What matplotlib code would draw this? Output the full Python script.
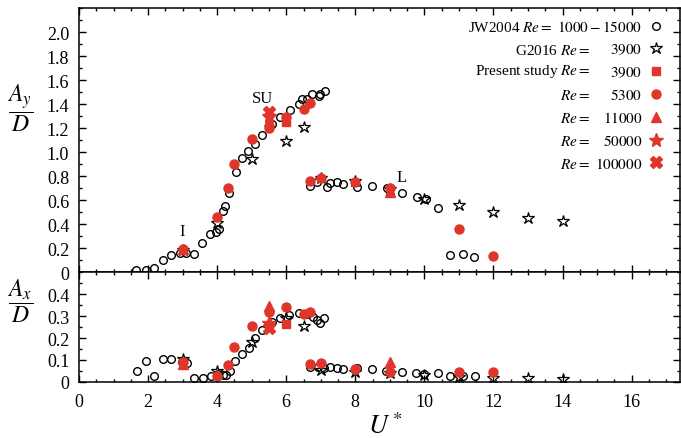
import matplotlib
matplotlib.use("Agg")
import matplotlib.pyplot as plt
from matplotlib.lines import Line2D
from matplotlib.ticker import MultipleLocator, FixedLocator
import numpy as np

plt.rcParams['font.family'] = ['Liberation Serif', 'DejaVu Serif']
plt.rcParams['mathtext.fontset'] = 'stix'

RED = '#e0352b'

# ---------------- data: top panel (A_y / D) ----------------
jw_y_u = [1.65, 1.93, 2.17, 2.42, 2.67, 2.92, 3.09, 3.33, 3.57, 3.79, 3.98, 4.06, 4.16, 4.23,
          4.35, 4.54, 4.72, 4.89, 5.10, 5.31, 5.60, 5.82, 6.11, 6.36, 6.47, 6.59, 6.76, 6.94,
          6.99, 7.11,
          6.68, 6.90, 7.17, 7.26, 7.46, 7.63, 8.05, 8.48, 8.92, 9.35, 9.79, 10.04, 10.39,
          10.73, 11.12, 11.45]
jw_y_a = [0.02, 0.02, 0.03, 0.10, 0.14, 0.16, 0.16, 0.15, 0.24, 0.32, 0.33, 0.36, 0.51, 0.55,
          0.66, 0.83, 0.95, 1.01, 1.07, 1.14, 1.23, 1.29, 1.35, 1.40, 1.44, 1.44, 1.48, 1.47,
          1.48, 1.51,
          0.72, 0.75, 0.71, 0.74, 0.75, 0.73, 0.71, 0.72, 0.70, 0.66, 0.625, 0.61, 0.53,
          0.14, 0.15, 0.125]

g16_u = [3, 4, 5, 6, 6.5, 7, 8, 9, 10, 11, 12, 13, 14]
g16_y = [0.18, 0.41, 0.94, 1.09, 1.21, 0.78, 0.76, 0.69, 0.61, 0.56, 0.50, 0.45, 0.425]

ps3900_u = [6.0]
ps3900_y = [1.25]
ps5300_u = [3.0, 4.0, 4.3, 4.5, 5.0, 5.5, 6.0, 6.5, 6.7, 6.7, 7.0, 8.0, 9.0, 11.0, 12.0]
ps5300_y = [0.19, 0.46, 0.70, 0.90, 1.11, 1.20, 1.29, 1.36, 1.41, 0.76, 0.78, 0.75, 0.70, 0.36, 0.13]
ps11000_u = [3.0, 5.5, 9.0]
ps11000_y = [0.19, 1.26, 0.67]
ps50000_u = [5.5]
ps50000_y = [1.30]
ps100000_u = [5.5]
ps100000_y = [1.33]

# ---------------- data: bottom panel (A_x / D) ----------------
jw_x_u = [1.67, 1.94, 2.17, 2.42, 2.67, 2.97, 3.12, 3.33, 3.58, 3.81, 4.03, 4.16, 4.27, 4.37,
          4.52, 4.72, 4.91, 5.10, 5.31, 5.60, 5.82, 6.09, 6.36, 6.59, 6.78, 6.88, 6.99, 7.09,
          6.70, 6.93, 7.10, 7.26, 7.46, 7.63, 8.05, 8.48, 8.90, 9.35, 9.77, 10.0, 10.39,
          10.73, 11.12, 11.47]
jw_x_a = [0.049, 0.097, 0.026, 0.103, 0.106, 0.091, 0.085, 0.017, 0.017, 0.026, 0.037, 0.032,
          0.034, 0.049, 0.094, 0.127, 0.154, 0.199, 0.238, 0.274, 0.289, 0.304, 0.316, 0.307,
          0.295, 0.280, 0.268, 0.292,
          0.070, 0.067, 0.064, 0.070, 0.064, 0.061, 0.064, 0.061, 0.049, 0.046, 0.043, 0.035,
          0.043, 0.026, 0.026, 0.026]

g16_x = [0.106, 0.049, 0.181, 0.29, 0.256, 0.053, 0.045, 0.040, 0.033, 0.024, 0.017, 0.020, 0.015]

ps3900_x = [0.266]
ps5300_x = [0.091, 0.028, 0.076, 0.157, 0.256, 0.32, 0.343, 0.307, 0.319, 0.080, 0.088, 0.058,
            0.044, 0.044, 0.044]
ps11000_x = [0.08, 0.345, 0.091]
ps50000_x = [0.27]
ps100000_x = [0.244]

legend_numbers = [r'$1000-15000$', r'$3900$', r'$3900$', r'$5300$', r'$11000$', r'$50000$', r'$100000$']
legend_prefix = [r'JW2004 $Re =$', r'G2016 $Re =$', r'Present study $Re =$', r'$Re =$',
                 r'$Re =$', r'$Re =$', r'$Re =$']

# ---------------- figure ----------------
W, H = 6.81, 4.39
fig = plt.figure(figsize=(W, H), dpi=100)
ax1 = fig.add_axes([0.116, 0.378, 0.8825, 0.6015])
ax2 = fig.add_axes([0.116, 0.1276, 0.8825, 0.2504])

styles = {
    'jw': dict(marker='o', ms=5.5, mfc='none', mec='black', mew=1.0, ls='none'),
    'g16': dict(marker='*', ms=9, mfc='none', mec='black', mew=0.9, ls='none'),
    'sq': dict(marker='s', ms=6, mfc=RED, mec=RED, ls='none'),
    'ci': dict(marker='o', ms=6.5, mfc=RED, mec=RED, ls='none'),
    'tr': dict(marker='^', ms=7, mfc=RED, mec=RED, ls='none'),
    'st': dict(marker='*', ms=10, mfc=RED, mec=RED, ls='none'),
    'xx': dict(marker='X', ms=9, mfc=RED, mec=RED, ls='none'),
}

ax1.plot(jw_y_u, jw_y_a, **styles['jw'])
ax1.plot(g16_u, g16_y, **styles['g16'])
ax1.plot(ps3900_u, ps3900_y, **styles['sq'])
ax1.plot(ps5300_u, ps5300_y, **styles['ci'])
ax1.plot(ps11000_u, ps11000_y, **styles['tr'])
ax1.plot(ps50000_u, ps50000_y, **styles['st'])
ax1.plot(ps100000_u, ps100000_y, **styles['xx'])

ax2.plot(jw_x_u, jw_x_a, **styles['jw'])
ax2.plot(g16_u, g16_x, **styles['g16'])
ax2.plot(ps3900_u, ps3900_x, **styles['sq'])
ax2.plot(ps5300_u, ps5300_x, **styles['ci'])
ax2.plot(ps11000_u, ps11000_x, **styles['tr'])
ax2.plot(ps50000_u, ps50000_x, **styles['st'])
ax2.plot(ps100000_u, ps100000_x, **styles['xx'])

for ax in (ax1, ax2):
    ax.set_xlim(0, 17.4)
    ax.xaxis.set_major_locator(MultipleLocator(2))
    ax.xaxis.set_minor_locator(MultipleLocator(0.5))
    ax.tick_params(which='both', direction='in', top=True, right=True, width=1.0)
    ax.tick_params(which='major', length=5)
    ax.tick_params(which='minor', length=2.5)
    ax.tick_params(axis='y', labelsize=13, pad=7)
    ax.tick_params(axis='x', labelsize=13, pad=8)
    for s in ax.spines.values():
        s.set_linewidth(1.1)

ax1.set_ylim(0, 2.2)
ax1.yaxis.set_major_locator(FixedLocator(np.arange(0, 2.01, 0.2)))
ax1.yaxis.set_minor_locator(MultipleLocator(0.1))
ax1.set_yticklabels(['0'] + ['%.1f' % v for v in np.arange(0.2, 2.01, 0.2)])
ax1.tick_params(axis='x', labelbottom=False)

ax2.set_ylim(0, 0.5)
ax2.yaxis.set_major_locator(FixedLocator([0, 0.1, 0.2, 0.3, 0.4]))
ax2.yaxis.set_minor_locator(MultipleLocator(0.05))
ax2.set_yticklabels(['0', '0.1', '0.2', '0.3', '0.4'])
ax2.set_xticklabels([str(int(v)) for v in ax2.get_xticks()])

# annotations
ax1.text(3.0, 0.34, 'I', fontsize=12, ha='center', va='center')
ax1.text(5.3, 1.45, 'SU', fontsize=12, ha='center', va='center')
ax1.text(9.35, 0.79, 'L', fontsize=12, ha='center', va='center')

# axis labels
fig.text(20 / 681, 1 - 108 / 439, r'$\dfrac{A_y}{D}$', fontsize=17, ha='center', va='center')
fig.text(20 / 681, 1 - 301 / 439, r'$\dfrac{A_x}{D}$', fontsize=17, ha='center', va='center')
fig.text(385 / 681, 1 - 426 / 439, r'$U^*$', fontsize=19, ha='center', va='center')

# legend (numbers right-aligned beside markers)
handles = [Line2D([], [], **styles[k]) for k in ['jw', 'g16', 'sq', 'ci', 'tr', 'st', 'xx']]
leg = ax1.legend(handles, legend_numbers, loc='upper right', bbox_to_anchor=(0.995, 1.01),
                 frameon=False, markerfirst=False, fontsize=11, handlelength=1.0,
                 handletextpad=0.35, labelspacing=0.52, borderpad=0.4)

fig.canvas.draw()
renderer = fig.canvas.get_renderer()
texts = leg.get_texts()
bbs = [t.get_window_extent(renderer) for t in texts]
x_num_left = min(b.x0 for b in bbs[1:])
gap = 5
for i, (t, b) in enumerate(zip(texts, bbs)):
    xr = (b.x0 if i == 0 else x_num_left) - gap
    fig.text(xr / fig.dpi / W, b.y0 / fig.dpi / H, legend_prefix[i], fontsize=11,
             ha='right', va='bottom')

fig.savefig('out.png', dpi=100)
